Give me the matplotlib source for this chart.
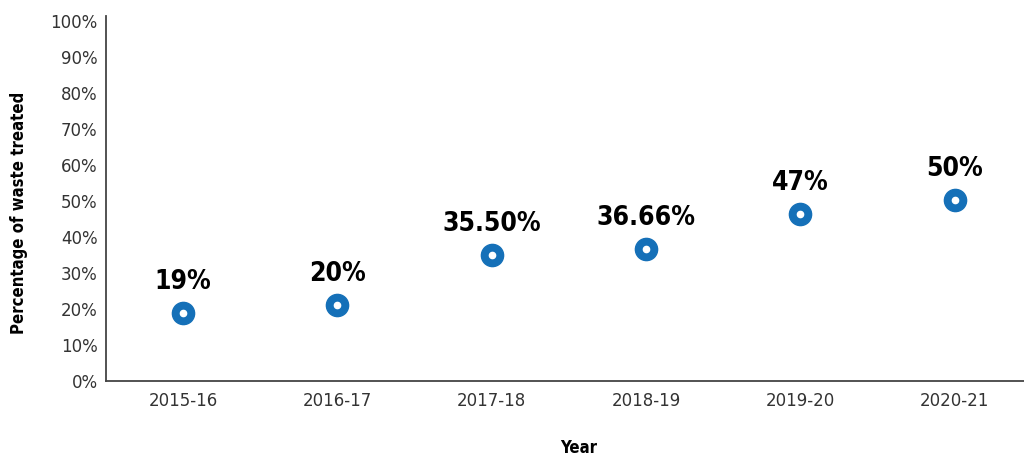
import matplotlib
matplotlib.use("Agg")
import matplotlib.pyplot as plt
from matplotlib.ticker import FuncFormatter

years = ["2015-16", "2016-17", "2017-18", "2018-19", "2019-20", "2020-21"]
treated = [19, 21, 35, 36.66, 46.4, 50.3]
labels = ["19%", "20%", "35.50%", "36.66%", "47%", "50%"]

narrow = ["DejaVu Sans"]
blue = "#1570b8"

fig = plt.figure(figsize=(10.24, 4.59), dpi=100)
ax = fig.add_axes([0.1035, 0.170, 0.8965, 0.795])

x = range(len(years))
ax.plot(x, treated, linestyle="none", marker="o", markersize=16,
        markerfacecolor=blue, markeredgecolor=blue, zorder=3)
ax.plot(x, treated, linestyle="none", marker="o", markersize=4.5,
        markerfacecolor="white", markeredgecolor="white", zorder=4)

# value labels above each point
for i, (v, t) in enumerate(zip(treated, labels)):
    ax.annotate(t, (i, v), xytext=(0, 13), textcoords="offset points",
                ha="center", va="bottom", fontsize=19, fontweight="bold",
                family=narrow, fontstretch="condensed", color="black")

ax.set_xlim(-0.5, 5.45)
ax.set_ylim(0, 101.4)
ax.set_yticks(range(0, 101, 10))
ax.yaxis.set_major_formatter(FuncFormatter(lambda v, p: f"{int(v)}%"))
ax.set_xticks(list(x))
ax.set_xticklabels(years)
ax.tick_params(length=0, labelsize=12, labelcolor="#333333", pad=8)
ax.tick_params(axis="y", pad=6)

for s in ["top", "right"]:
    ax.spines[s].set_visible(False)
for s in ["left", "bottom"]:
    ax.spines[s].set_color("#444444")
    ax.spines[s].set_linewidth(1.3)

ax.set_ylabel("Percentage of waste treated", fontsize=12, fontweight="bold",
              family=narrow, fontstretch="condensed")
ax.set_xlabel("Year", fontsize=12, fontweight="bold", family=narrow,
              fontstretch="condensed")
ax.yaxis.set_label_coords(-0.095, 0.46)
ax.xaxis.set_label_coords(0.515, -0.185)
ax.xaxis.label.set_va("center")
ax.yaxis.label.set_va("center")

fig.savefig("out.png", dpi=100)
